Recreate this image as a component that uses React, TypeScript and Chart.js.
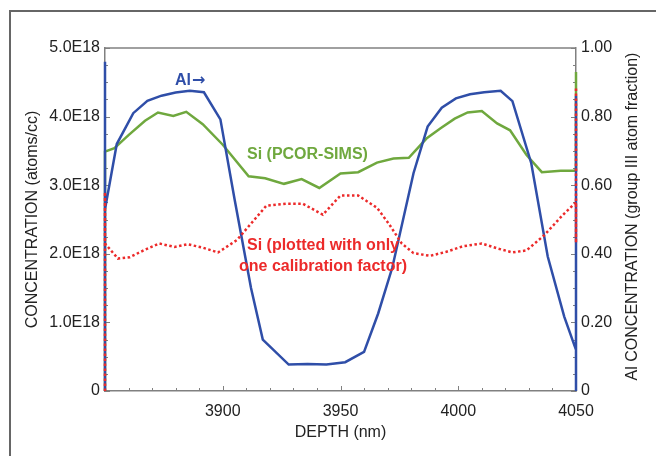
import { useEffect, useRef } from "react";
import { Chart, registerables } from "chart.js";

Chart.register(...registerables);

// ---- Data ----
// Al concentration (group III atom fraction), right axis
const alDepth = [3850, 3850, 3850, 3855, 3862, 3868, 3874, 3880, 3886, 3892, 3899, 3905, 3912, 3917, 3928, 3936, 3944, 3952, 3960, 3966, 3972, 3981, 3987, 3993, 3999, 4005, 4011, 4018, 4023, 4031, 4038, 4045, 4050, 4050, 4050];
const alValue = [0, 0.96, 0.53, 0.72, 0.81, 0.846, 0.861, 0.87, 0.875, 0.871, 0.792, 0.56, 0.3, 0.15, 0.077, 0.079, 0.077, 0.084, 0.114, 0.226, 0.36, 0.635, 0.771, 0.826, 0.853, 0.865, 0.871, 0.875, 0.845, 0.664, 0.392, 0.217, 0.12, 0.86, 0];

// Si (PCOR-SIMS), left axis, units of 1E18 atoms/cc
const siDepth = [3850, 3850, 3854, 3860, 3867, 3872.5, 3879, 3884.5, 3891.5, 3900, 3911, 3918, 3926, 3933.5, 3941, 3950, 3957.5, 3965.5, 3972.5, 3979, 3986.5, 3992.5, 3998.5, 4004, 4010, 4016.5, 4022, 4029, 4035.5, 4043.5, 4050, 4050, 4050];
const siValue = [0, 3.49, 3.54, 3.73, 3.94, 4.06, 4.01, 4.07, 3.89, 3.59, 3.13, 3.1, 3.02, 3.09, 2.96, 3.17, 3.19, 3.33, 3.39, 3.4, 3.68, 3.83, 3.97, 4.06, 4.08, 3.9, 3.8, 3.44, 3.19, 3.21, 3.21, 4.65, 3.21];

// Si (plotted with only one calibration factor), left axis, units of 1E18
const siOneDepth = [3850, 3850, 3850, 3855.5, 3860.5, 3867, 3873, 3879.5, 3885, 3891.5, 3898, 3906, 3911.5, 3918.5, 3927, 3934, 3942.5, 3950, 3957.5, 3965.5, 3970.5, 3976, 3981, 3988, 3995, 4002, 4010, 4016.5, 4023, 4029, 4036.5, 4044.5, 4050, 4050, 4050];
const siOneValue = [0, 2.9, 2.15, 1.93, 1.95, 2.06, 2.15, 2.1, 2.14, 2.09, 2.02, 2.2, 2.42, 2.7, 2.73, 2.73, 2.57, 2.85, 2.85, 2.67, 2.44, 2.15, 2.01, 1.97, 2.03, 2.11, 2.15, 2.08, 2.02, 2.05, 2.27, 2.57, 2.75, 2.16, 4.42];

const xMin = 3850;
const xMax = 4050;
const xMajorStep = 50;
const xMinorStep = 10;
const yMax = 5;
const yMajorStep = 1;
const yMinorStep = 0.25;
const y1Max = 1;
const y1MajorStep = 0.2;
const y1MinorStep = 0.05;

const xTitle = "DEPTH (nm)";
const yTitle = "CONCENTRATION (atoms/cc)";
const y1Title = "Al CONCENTRATION (group III atom fraction)";
const alLabel = "Al";
const alArrow = "\u2192";
const siLabel = "Si (PCOR-SIMS)";
const siOneLabel = ["Si (plotted with only", "one calibration factor)"];

const BLUE = "#2f4ea8";
const GREEN = "#6fa83e";
const RED = "#ec2a2a";
const AXIS = "#808080";
const TEXT = "#222222";
const FONT = "'Liberation Sans', Arial, Helvetica, sans-serif";

const pts = (xs: number[], ys: number[]) => xs.map((x, i) => ({ x, y: ys[i] }));

const decorPlugin = {
  id: "decor",
  beforeDraw(chart: any) {
    const { ctx, width, height } = chart;
    ctx.save();
    ctx.fillStyle = "#ffffff";
    ctx.fillRect(0, 0, width, height);
    ctx.strokeStyle = "#666666";
    ctx.lineWidth = 2;
    ctx.strokeRect(10, 11, width + 40, height + 40);
    ctx.restore();
  },
  beforeDatasetsDraw(chart: any) {
    const { ctx, chartArea: a, scales } = chart;
    ctx.save();
    ctx.strokeStyle = AXIS;
    ctx.lineWidth = 1.5;
    ctx.beginPath();
    ctx.moveTo(a.left, a.top);
    ctx.lineTo(a.right, a.top);
    ctx.stroke();
    ctx.lineWidth = 1;
    ctx.beginPath();
    for (let v = xMin; v <= xMax + 1e-9; v += xMinorStep) {
      const px = Math.round(scales.x.getPixelForValue(v)) + 0.5;
      const len = Math.abs(v % xMajorStep) < 1e-6 ? 5 : 3;
      ctx.moveTo(px, a.bottom);
      ctx.lineTo(px, a.bottom - len);
    }
    for (let v = 0; v <= yMax + 1e-9; v += yMinorStep) {
      const py = Math.round(scales.y.getPixelForValue(v)) + 0.5;
      const len = Math.abs(v % yMajorStep) < 1e-6 ? 5 : 3;
      ctx.moveTo(a.left, py);
      ctx.lineTo(a.left + len, py);
    }
    for (let v = 0; v <= y1Max + 1e-9; v += y1MinorStep) {
      const py = Math.round(scales.y1.getPixelForValue(v)) + 0.5;
      const len = Math.abs((v / y1MajorStep) - Math.round(v / y1MajorStep)) < 1e-6 ? 5 : 3;
      ctx.moveTo(a.right, py);
      ctx.lineTo(a.right - len, py);
    }
    ctx.stroke();
    ctx.restore();
  },
  afterDatasetsDraw(chart: any) {
    const { ctx } = chart;
    ctx.save();
    ctx.font = `bold 16px ${FONT}`;
    ctx.textBaseline = "alphabetic";
    ctx.textAlign = "left";
    ctx.fillStyle = BLUE;
    ctx.fillText(alLabel, 175, 85);
    const w = ctx.measureText(alLabel).width;
    ctx.font = `bold 16px 'DejaVu Sans', sans-serif`;
    ctx.fillText(alArrow, 175 + w + 1, 85);
    ctx.font = `bold 16px ${FONT}`;
    ctx.fillStyle = GREEN;
    ctx.fillText(siLabel, 247, 159);
    ctx.fillStyle = RED;
    ctx.textAlign = "center";
    ctx.fillText(siOneLabel[0], 323, 250);
    ctx.fillText(siOneLabel[1], 323, 270.5);
    ctx.restore();
  },
  afterDraw(chart: any) {
    const { ctx } = chart;
    ctx.save();
    ctx.translate(633, 216.5);
    ctx.rotate(-Math.PI / 2);
    ctx.font = `16px ${FONT}`;
    ctx.fillStyle = TEXT;
    ctx.textAlign = "center";
    ctx.textBaseline = "middle";
    ctx.fillText(y1Title, 0, 0);
    ctx.restore();
  },
};

export default function App() {
  const canvasRef = useRef<HTMLCanvasElement | null>(null);

  useEffect(() => {
    const canvas = canvasRef.current;
    if (!canvas) return;
    Chart.defaults.font.family = FONT;
    const chart = new Chart(canvas, {
      type: "line",
      data: {
        datasets: [
          {
            label: "Si (PCOR-SIMS)",
            data: pts(siDepth, siValue),
            yAxisID: "y",
            borderColor: GREEN,
            borderWidth: 2.5,
            pointRadius: 0,
            tension: 0,
            fill: false,
            clip: false,
            order: 3,
          },
          {
            label: "Al",
            data: pts(alDepth, alValue),
            yAxisID: "y1",
            borderColor: BLUE,
            borderWidth: 2.5,
            pointRadius: 0,
            tension: 0,
            fill: false,
            clip: false,
            order: 2,
          },
          {
            label: "Si (one calibration factor)",
            data: pts(siOneDepth, siOneValue),
            yAxisID: "y",
            borderColor: RED,
            borderWidth: 2.5,
            borderDash: [2.5, 2.5],
            pointRadius: 0,
            tension: 0,
            fill: false,
            clip: false,
            order: 1,
          },
        ],
      },
      options: {
        responsive: false,
        animation: false,
        parsing: true,
        layout: { padding: { left: 0, right: 0, top: 48, bottom: 0 } },
        plugins: {
          legend: { display: false },
          tooltip: { enabled: false },
        },
        scales: {
          x: {
            type: "linear",
            position: "bottom",
            min: xMin,
            max: xMax,
            afterFit: (s: any) => {
              s.height = 65;
            },
            grid: { display: false, drawTicks: false },
            border: { display: true, color: AXIS, width: 1.5 },
            ticks: {
              stepSize: xMajorStep,
              padding: 11,
              color: TEXT,
              font: { size: 16 },
              maxRotation: 0,
              callback: (v: any) => (Number(v) === xMin ? "" : String(v)),
            },
            title: {
              display: true,
              text: xTitle,
              color: TEXT,
              font: { size: 16 },
              padding: { top: 0, bottom: 14 },
            },
          },
          y: {
            type: "linear",
            position: "left",
            min: 0,
            max: yMax,
            afterFit: (s: any) => {
              s.width = 105;
            },
            grid: { display: false, drawTicks: false },
            border: { display: true, color: AXIS, width: 1.5 },
            ticks: {
              stepSize: yMajorStep,
              padding: 5,
              color: TEXT,
              font: { size: 16 },
              callback: (v: any) => (Number(v) === 0 ? "0" : Number(v).toFixed(1) + "E18"),
            },
            title: {
              display: true,
              text: yTitle,
              color: TEXT,
              font: { size: 16 },
              padding: { top: 23, bottom: 0 },
            },
          },
          y1: {
            type: "linear",
            position: "right",
            min: 0,
            max: y1Max,
            afterFit: (s: any) => {
              s.width = 80;
            },
            grid: { display: false, drawTicks: false },
            border: { display: true, color: AXIS, width: 1.5 },
            ticks: {
              stepSize: y1MajorStep,
              padding: 5,
              color: TEXT,
              font: { size: 16 },
              callback: (v: any) => (Number(v) === 0 ? "0" : Number(v).toFixed(2)),
            },
          },
        },
      },
      plugins: [decorPlugin],
    } as any);
    return () => chart.destroy();
  }, []);

  return (
    <div style={{ position: "fixed", left: 0, top: 0, width: 656, height: 456, background: "#fff" }}>
      <canvas ref={canvasRef} width={656} height={456} style={{ display: "block", width: 656, height: 456 }} />
    </div>
  );
}
